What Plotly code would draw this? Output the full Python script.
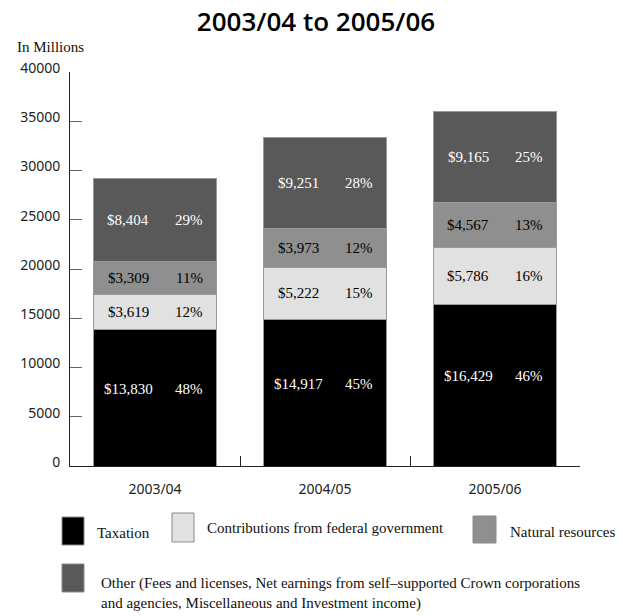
import plotly.graph_objects as go

# Revenue by source, in millions of dollars
years = ["2003/04", "2004/05", "2005/06"]
taxation = [13830, 14917, 16429]
contributions = [3619, 5222, 5786]
natural_resources = [3309, 3973, 4567]
other = [8404, 9251, 9165]

taxation_pct = ["48%", "45%", "46%"]
contributions_pct = ["12%", "15%", "16%"]
natural_pct = ["11%", "12%", "13%"]
other_pct = ["29%", "28%", "25%"]

y_ticks = [0, 5000, 10000, 15000, 20000, 25000, 30000, 35000, 40000]

series = [
    ("Taxation", taxation, taxation_pct, "#000000", "white"),
    ("Contributions from federal government", contributions, contributions_pct, "#e1e1e1", "black"),
    ("Natural resources", natural_resources, natural_pct, "#8f8f8f", "black"),
    ("Other (Fees and licenses, Net earnings from self\u2013supported Crown corporations<br>"
     "and agencies, Miscellaneous and Investment income)", other, other_pct, "#595959", "white"),
]

W, H = 623, 616
L, R, T, B = 70, 43, 72, 150
PW, PH = W - L - R, H - T - B


def px(x):
    return (x - L) / PW


def py(y):
    return (H - B - y) / PH


SERIF = "Liberation Serif"
SANS = "Noto Sans"

fig = go.Figure()
annotations = []
shapes = []

base = [0] * len(years)
for idx, (name, vals, pcts, color, txtcolor) in enumerate(series):
    fig.add_trace(go.Bar(
        x=years, y=vals, name=name, width=0.72,
        marker=dict(color=color, line=dict(color="#9a9a9a", width=1)),
        showlegend=False, hoverinfo="skip",
    ))
    for i, v in enumerate(vals):
        mid = base[i] + v / 2
        ys = 9 if idx == 0 else 0
        annotations.append(dict(
            x=years[i], y=mid, xref="x", yref="y", text=f"${v:,}",
            showarrow=False, xshift=-27, yshift=ys,
            font=dict(family=SERIF, size=15, color=txtcolor)))
        annotations.append(dict(
            x=years[i], y=mid, xref="x", yref="y", text=pcts[i],
            showarrow=False, xshift=34, yshift=ys,
            font=dict(family=SERIF, size=15, color=txtcolor)))
        base[i] += v

# Custom legend: swatch boxes with labels
legend_items = [
    # (box x0, box y0, box x1, box y1, text x, text y)
    (62, 517, 84, 545, 95, 533),
    (172, 513, 194, 542, 205, 528),
    (473, 516, 496, 543, 508, 532),
    (62, 564, 84, 592, 99, 593),
]
for (name, _, _, color, _), (x0, y0, x1, y1, tx, ty) in zip(series, legend_items):
    shapes.append(dict(type="rect", xref="paper", yref="paper",
                       x0=px(x0), x1=px(x1), y0=py(y1), y1=py(y0),
                       fillcolor=color, line=dict(color="#8a8a8a", width=1)))
    annotations.append(dict(
        x=px(tx), y=py(ty), xref="paper", yref="paper", text=name,
        showarrow=False, xanchor="left", yanchor="middle", align="left",
        font=dict(family=SERIF, size=15, color="#111")))

annotations.append(dict(
    x=px(15), y=py(47), xref="paper", yref="paper", text="In Millions",
    showarrow=False, xanchor="left", yanchor="middle",
    font=dict(family=SERIF, size=15, color="#111")))

fig.update_layout(
    width=W, height=H,
    margin=dict(l=L, r=R, t=T, b=B, pad=0),
    barmode="stack",
    bargap=0.28,
    plot_bgcolor="white", paper_bgcolor="white",
    title=dict(text="2003/04 to 2005/06", x=316 / W, xanchor="center",
               y=1 - 22 / H, yanchor="middle",
               font=dict(family="Open Sans", size=26, color="#000", weight=600)),
    annotations=annotations,
    shapes=shapes,
    xaxis=dict(
        showline=True, linecolor="#222", linewidth=1,
        ticks="inside", ticklen=10, tickcolor="#222", tickson="boundaries",
        showgrid=False, ticklabelstandoff=10,
        tickfont=dict(family=SANS, size=14, color="#222"),
    ),
    yaxis=dict(
        range=[0, 40000], tickvals=y_ticks, tickformat="d",
        showline=True, linecolor="#222", linewidth=1,
        ticks="inside", ticklen=12, tickcolor="#666",
        showgrid=False, zeroline=False, ticklabelstandoff=6, ticklabelshift=-4,
        tickfont=dict(family=SANS, size=14, color="#222"),
    ),
)

fig.write_html("out.html")
